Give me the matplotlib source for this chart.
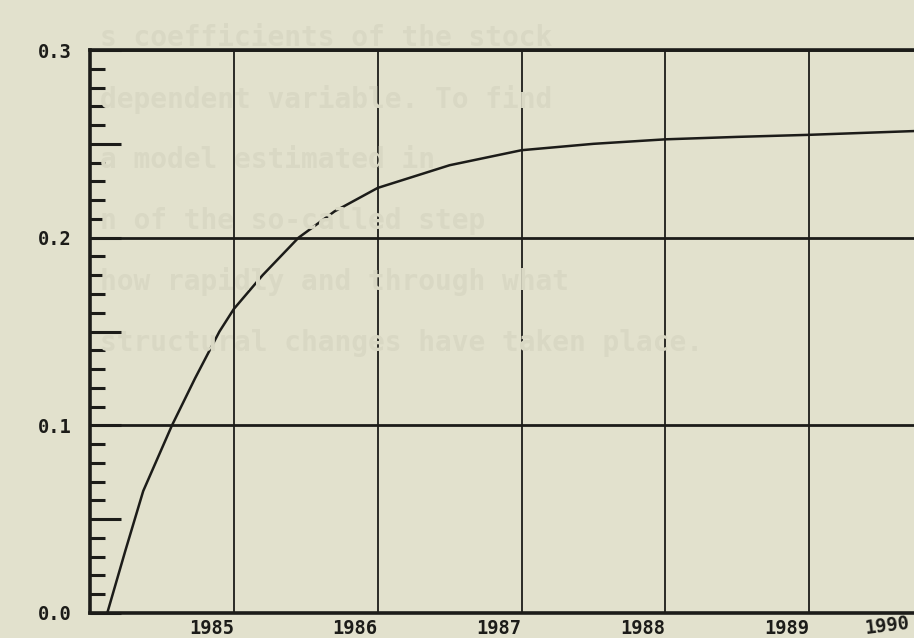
import matplotlib
matplotlib.use('Agg')
import matplotlib.pyplot as plt
import matplotlib.transforms as mtransforms
from matplotlib.ticker import MultipleLocator

# valores
anos = [1984.12, 1984.245, 1984.37, 1984.57, 1984.73, 1984.90, 1985.0,
        1985.2, 1985.45, 1985.7, 1986.0, 1986.5, 1987.0, 1987.5, 1988.0,
        1988.5, 1989.0, 1989.8]
valores = [0.0, 0.033, 0.065, 0.100, 0.125, 0.150, 0.162,
           0.180, 0.200, 0.214, 0.2265, 0.2386, 0.2466, 0.250, 0.2524,
           0.2537, 0.2548, 0.257]

anos_ticks = [1985, 1986, 1987, 1988, 1989, 1990]
y_grid = [0.0, 0.1, 0.2, 0.3]
y_ticks = [0.0, 0.05, 0.1, 0.15, 0.2, 0.25, 0.3]
y_labels = ['0.0', '', '0.1', '', '0.2', '', '0.3']

# texto del reverso de la pagina que se transparenta
texto_fondo = ['s coefficients of the stock',
               'dependent variable. To find',
               'a model estimated in',
               'n of the so-called step',
               'how rapidly and through what',
               'structural changes have taken place.']

papel = '#e2e1cd'
tinta = '#1c1c19'
fuente = 'DejaVu Sans Mono'

fig = plt.figure(figsize=(9.14, 6.38), dpi=100, facecolor=papel)

# texto fantasma
for i, linea in enumerate(texto_fondo):
    fig.text(100 / 914, 1 - (38 + i * 61) / 638, linea, fontsize=20,
             family=fuente, fontweight='bold', color='#d9d8c4',
             va='center', ha='left', zorder=0)

ax = fig.add_axes([90 / 914, 25 / 638, (953 - 90) / 914, (613 - 50) / 638])
ax.patch.set_alpha(0)

for v in y_grid:
    ax.axhline(v, color=tinta, lw=2.0, zorder=2)
for a in anos_ticks:
    ax.axvline(a, color=tinta, lw=1.3, zorder=2)

ax.plot(anos, valores, color=tinta, lw=1.8, zorder=3)

ax.set_xlim(1984, 1990)
ax.set_ylim(0, 0.3)

for lado in ['left', 'top', 'bottom']:
    ax.spines[lado].set_linewidth(2.6)
    ax.spines[lado].set_color(tinta)
ax.spines['right'].set_visible(False)

ax.set_xticks(anos_ticks)
ax.set_xticklabels([str(a) for a in anos_ticks], ha='right',
                   family=fuente, fontweight='bold', fontsize=13.5, color=tinta)
ax.tick_params(axis='x', length=0, pad=4)
# la ultima etiqueta cae fuera del borde: se corre hacia dentro
ultima = ax.get_xticklabels()[-1]
ultima.set_rotation(7)
ultima.set_transform(ultima.get_transform() +
                     mtransforms.ScaledTranslation(-0.43, 0.05, fig.dpi_scale_trans))

ax.set_yticks(y_ticks)
ax.set_yticklabels(y_labels, family=fuente, fontweight='bold', fontsize=13.5,
                   color=tinta)
ax.yaxis.set_minor_locator(MultipleLocator(0.01))
ax.tick_params(axis='y', which='major', direction='in', length=22, width=2.2,
               pad=13, color=tinta)
ax.tick_params(axis='y', which='minor', direction='in', length=11, width=2.2,
               color=tinta)

plt.savefig('out.png', dpi=100, facecolor=papel)
